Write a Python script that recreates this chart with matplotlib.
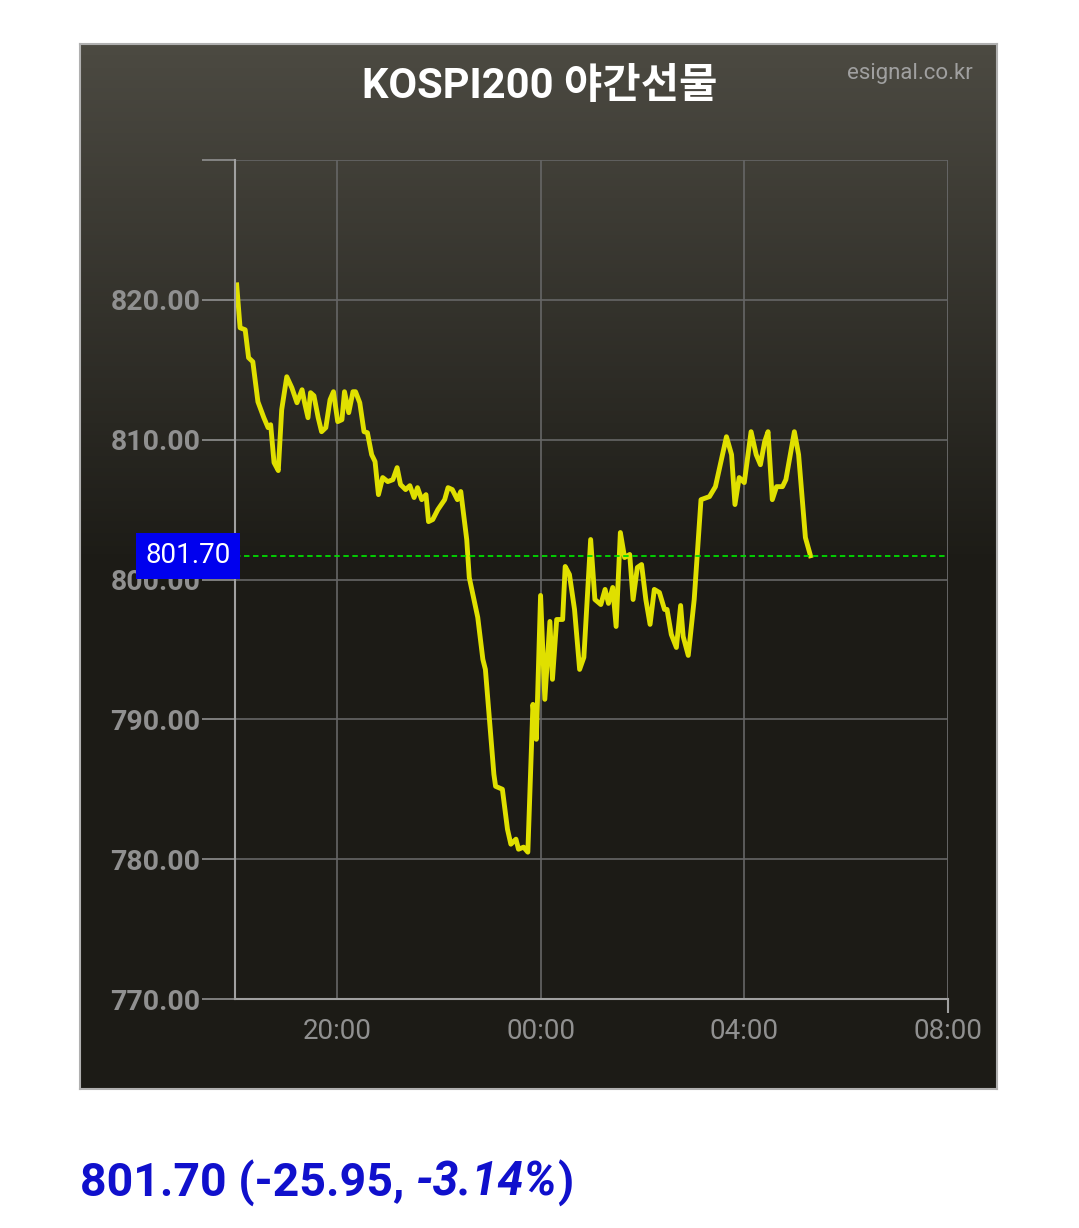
import matplotlib
matplotlib.use("Agg")
import matplotlib.pyplot as plt
import numpy as np

plt.rcParams['font.family'] = ['Roboto', 'Noto Sans CJK KR', 'DejaVu Sans']

minutes = [2,6,12,16,21,27,34,39,42,46,51,55,61,67,73,79,82,86,89,93,98,102,107,112,116,121,126,129,134,139,142,147,152,156,161,165,169,174,180,186,191,195,201,206,211,215,220,225,228,233,239,247,251,256,262,266,273,276,286,292,295,305,307,315,321,325,331,334,340,345,351,355,360,365,371,374,379,386,389,394,400,406,411,419,424,431,436,440,445,449,454,459,465,469,474,479,484,489,494,500,506,509,514,520,525,528,534,541,549,559,566,571,579,585,589,594,600,608,614,619,624,628,633,638,645,649,659,664,672,678]
values = [821.07,818.0,817.86,815.86,815.57,812.71,811.57,810.86,811.07,808.36,807.79,812.14,814.5,813.71,812.64,813.57,812.64,811.57,813.36,813.14,811.57,810.57,810.86,812.86,813.43,811.29,811.43,813.43,811.93,813.43,813.43,812.64,810.57,810.5,808.93,808.43,806.07,807.29,807.0,807.14,808.0,806.79,806.43,806.71,805.86,806.57,805.71,806.07,804.14,804.29,805.0,805.71,806.57,806.43,805.71,806.29,802.86,800.14,797.29,794.29,793.57,786.07,785.21,785.0,782.14,781.07,781.43,780.71,780.86,780.5,791.07,788.57,798.86,791.43,797.0,792.86,797.14,797.14,800.93,800.36,797.86,793.57,794.43,802.86,798.57,798.21,799.29,798.29,799.43,796.64,803.36,801.57,801.79,798.57,800.86,801.07,798.57,796.79,799.29,799.07,797.86,797.86,796.07,795.14,798.14,795.93,794.57,798.57,805.71,805.93,806.64,808.0,810.21,808.93,805.36,807.29,806.93,810.57,808.93,808.21,809.86,810.57,805.71,806.64,806.64,807.14,810.57,808.93,803.0,801.70]
last_value = 801.70
x_ticks = [2, 6, 10, 14]
x_labels = ["20:00", "00:00", "04:00", "08:00"]
y_ticks = [770, 780, 790, 800, 810, 820, 830]
title = "KOSPI200 야간선물"
summary_main = "801.70 (-25.95, "
summary_pct = "-3.14%"

W, H = 1079, 1228
fig = plt.figure(figsize=(W/100, H/100), dpi=100)
fig.patch.set_facecolor("white")

bg = fig.add_axes([80/W, 1-1089/H, 917/W, 1045/H])
grad = np.linspace(0, 1, 256)[:, None]
top = np.array([0x4c, 0x4a, 0x42]) / 255
mid = np.array([0x1c, 0x1b, 0x16]) / 255
t = np.clip(grad / 0.5, 0, 1)
img = top[None, None, :] * (1 - t[..., None]) + mid[None, None, :] * t[..., None]
img = np.repeat(img, 2, axis=1)
bg.imshow(img, aspect="auto", extent=[0, 1, 0, 1])
bg.set_xlim(0, 1); bg.set_ylim(0, 1)
bg.set_xticks([]); bg.set_yticks([])
for s in bg.spines.values():
    s.set_color("#b0b0b0"); s.set_linewidth(1.5)

ax = fig.add_axes([235/W, 1-999/H, 713/W, 839/H])
ax.set_facecolor("none")
hours = np.array(minutes) / 60.0
ax.plot(hours, values, color="#e0e000", lw=3.5, solid_joinstyle="round")
ax.axhline(last_value, color="#00dd00", lw=1.3, ls=(0, (3, 2)))
ax.set_xlim(0, 14)
ax.set_ylim(770, 830)
ax.set_xticks(x_ticks)
ax.set_xticklabels(x_labels, color="#909090", fontsize=20)
ax.set_yticks(y_ticks)
ax.set_yticklabels([f"{v:.2f}" if v < 830 else "" for v in y_ticks], color="#909090", fontsize=20.5, fontweight="bold")
ax.tick_params(axis="y", length=24, color="#909090", width=1.2, pad=1)
ax.tick_params(axis="x", length=0, pad=14)
ax.grid(True, color="#666666", lw=1.2)
for k in ["top", "right"]:
    ax.spines[k].set_visible(False)
for k in ["left", "bottom"]:
    ax.spines[k].set_color("#a0a0a0"); ax.spines[k].set_linewidth(1.5)
ax.vlines(14, 770, 830, color="#666666", lw=1.2)
ax.vlines(14, 769, 770, color="#a0a0a0", lw=1.5, clip_on=False)

ax.text(-0.006, last_value, f"{last_value:.2f}", transform=ax.get_yaxis_transform(),
        ha="right", va="center", color="white", fontsize=20,
        bbox=dict(boxstyle="square,pad=0.35", fc="#0000ee", ec="none"))

fig.text(540/W, 1-86/H, title, ha="center", va="center", color="white", fontsize=30, fontweight="bold")
fig.text(973/W, 1-74/H, "esignal.co.kr", ha="right", va="center", color="#a0a0a0", fontsize=16)

fig.canvas.draw()
r = fig.canvas.get_renderer()
ty = 1-1183/H
fs = 33.5
t1 = fig.text(80/W, ty, summary_main, ha="left", va="center", color="#1010cc", fontsize=fs, fontweight="bold")
bb = t1.get_window_extent(r)
t2 = fig.text(bb.x1/W, ty, summary_pct, ha="left", va="center", color="#1010cc", fontsize=fs, fontweight="bold", style="italic")
bb2 = t2.get_window_extent(r)
fig.text(bb2.x1/W, ty, ")", ha="left", va="center", color="#1010cc", fontsize=fs, fontweight="bold")

fig.savefig("out.png", dpi=100, facecolor="white")
